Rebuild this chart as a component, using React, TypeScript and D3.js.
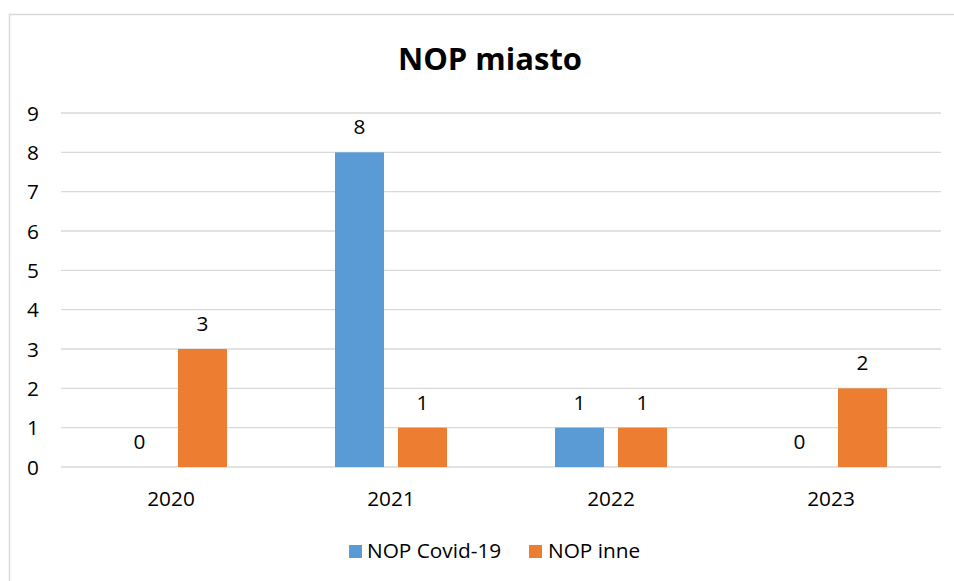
import React from "react";
import * as d3 from "d3";

const categories = ["2020", "2021", "2022", "2023"];
const seriesNames = ["NOP Covid-19", "NOP inne"];
const covid = [0, 8, 1, 0];
const inne = [3, 1, 1, 2];
const yTicks = [0, 1, 2, 3, 4, 5, 6, 7, 8, 9];
const colors = ["#5b9bd5", "#ed7d31"];

export default function App() {
  const W = 954, H = 581;
  const x = d3.scaleBand().domain(categories).range([61, 941]);
  const y = d3.scaleLinear().domain([0, 9]).range([467, 113]);
  const series = [covid, inne];
  const barW = 49;
  const offsets = [-31.5, 31.5];
  const font = "'Open Sans', sans-serif";
  const fs = 20.8;
  return (
    <svg width={W} height={H} style={{ position: "absolute", left: 0, top: 0 }} fontFamily={font}>
      <rect x={0} y={0} width={W} height={H} fill="#fff" />
      <rect x={9.5} y={14.5} width={W + 10} height={H + 10} fill="none" stroke="#d9d9d9" strokeWidth={1.5} />
      <text x={490} y={70} textAnchor="middle" fontSize={31} fontWeight="bold" fill="#000">NOP miasto</text>
      {yTicks.map((t) => (
        <g key={t}>
          <line x1={61} x2={941} y1={y(t)} y2={y(t)} stroke="#d9d9d9" strokeWidth={1.3} />
          <text x={39} y={y(t) + 7.5} textAnchor="end" fontSize={fs} fill="#000">{t}</text>
        </g>
      ))}
      {categories.map((c, i) => {
        const cx = x(c)! + x.bandwidth() / 2;
        return (
          <g key={c}>
            <text x={cx} y={506} textAnchor="middle" fontSize={fs} fill="#000">{c}</text>
            {series.map((s, j) => {
              const bx = cx + offsets[j] - barW / 2;
              const v = s[i];
              return (
                <g key={j}>
                  {v > 0 && <rect x={bx} y={y(v)} width={barW} height={y(0) - y(v)} fill={colors[j]} />}
                  <text x={cx + offsets[j]} y={y(v) - 18} textAnchor="middle" fontSize={fs} fill="#000">{v}</text>
                </g>
              );
            })}
          </g>
        );
      })}
      <rect x={349} y={545} width={13} height={13} fill={colors[0]} />
      <text x={367} y={558} fontSize={fs} fill="#000">{seriesNames[0]}</text>
      <rect x={529} y={545} width={13} height={13} fill={colors[1]} />
      <text x={548} y={558} fontSize={fs} fill="#000">{seriesNames[1]}</text>
    </svg>
  );
}
